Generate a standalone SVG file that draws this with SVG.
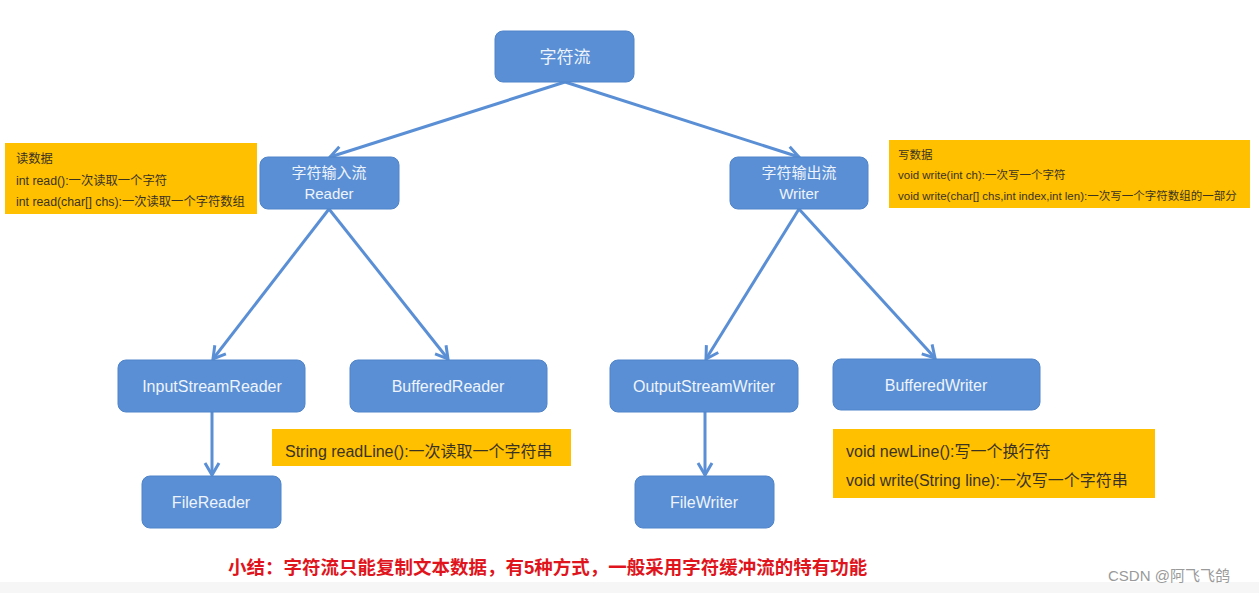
<svg xmlns="http://www.w3.org/2000/svg" width="1259" height="593" viewBox="0 0 1259 593">
<defs>
<style>
.node rect{fill:#5a8fd5;stroke:#4f84c9;stroke-width:1}
.node text{fill:#eef4fb;font-family:"Liberation Sans","Noto Sans CJK SC",sans-serif;font-size:16px;text-anchor:middle}
.note rect{fill:#ffc000}
.note text{fill:#3b3320;font-family:"Liberation Sans","Noto Sans CJK SC",sans-serif}
.s text{font-size:11.5px}
.sl text{font-size:12.3px}
.b text{font-size:16px}
.conn line{stroke:#5a8fd5;stroke-width:3;fill:none;marker-end:url(#arr)}
</style>
<marker id="arr" markerUnits="userSpaceOnUse" markerWidth="18" markerHeight="18" viewBox="0 0 18 18" refX="15" refY="9" orient="auto">
<path d="M3,2 L15,9 L3,16" fill="none" stroke="#5a8fd5" stroke-width="3"/>
</marker>
</defs>
<rect x="0" y="0" width="1259" height="593" fill="#ffffff"/>
<rect x="0" y="582" width="1259" height="11" fill="#f6f6f6"/>

<g id="connectors" class="conn">
<line x1="565" y1="82" x2="330" y2="157"/>
<line x1="565" y1="82" x2="799" y2="157"/>
<line x1="329" y1="209" x2="213" y2="359"/>
<line x1="329" y1="209" x2="448" y2="359"/>
<line x1="799" y1="209" x2="706" y2="359"/>
<line x1="799" y1="209" x2="935" y2="358"/>
<line x1="212" y1="412" x2="212" y2="475"/>
<line x1="705" y1="412" x2="705" y2="475"/>
</g>

<g id="n-root" class="node"><rect x="495" y="31" width="139" height="51" rx="8"/><text x="565" y="63" style="font-size:17px">字符流</text></g>
<g id="n-reader" class="node"><rect x="260" y="157" width="139" height="52" rx="8"/><text x="329" y="178" style="font-size:15px">字符输入流</text><text x="329" y="199" style="font-size:15px">Reader</text></g>
<g id="n-writer" class="node"><rect x="730" y="157" width="138" height="52" rx="8"/><text x="799" y="178" style="font-size:15px">字符输出流</text><text x="799" y="199" style="font-size:15px">Writer</text></g>
<g id="n-isr" class="node"><rect x="118" y="360" width="187" height="52" rx="8"/><text x="212" y="392">InputStreamReader</text></g>
<g id="n-br" class="node"><rect x="350" y="360" width="197" height="52" rx="8"/><text x="448" y="392">BufferedReader</text></g>
<g id="n-osw" class="node"><rect x="610" y="360" width="188" height="52" rx="8"/><text x="704" y="392">OutputStreamWriter</text></g>
<g id="n-bw" class="node"><rect x="833" y="359" width="207" height="51" rx="8"/><text x="936" y="391">BufferedWriter</text></g>
<g id="n-fr" class="node"><rect x="142" y="476" width="139" height="52" rx="8"/><text x="211" y="508">FileReader</text></g>
<g id="n-fw" class="node"><rect x="635" y="476" width="139" height="52" rx="8"/><text x="704" y="508">FileWriter</text></g>

<g id="note-read" class="note sl"><rect x="5" y="143" width="252" height="71"/>
<text x="16" y="163">读数据</text>
<text x="16" y="185">int read():一次读取一个字符</text>
<text x="16" y="206">int read(char[] chs):一次读取一个字符数组</text></g>
<g id="note-write" class="note s"><rect x="889" y="140" width="361" height="68"/>
<text x="898" y="159">写数据</text>
<text x="898" y="179">void write(int ch):一次写一个字符</text>
<text x="898" y="200">void write(char[] chs,int index,int len):一次写一个字符数组的一部分</text></g>
<g id="note-readline" class="note b"><rect x="272" y="429" width="299" height="37"/>
<text x="285" y="457">String readLine():一次读取一个字符串</text></g>
<g id="note-bw" class="note b"><rect x="833" y="429" width="322" height="69"/>
<text x="846" y="457">void newLine():写一个换行符</text>
<text x="846" y="486">void write(String line):一次写一个字符串</text></g>

<text x="228" y="574" fill="#e0141c" font-weight="bold" font-size="18.5" font-family="'Liberation Sans','Noto Sans CJK SC',sans-serif">小结：字符流只能复制文本数据，有5种方式，一般采用字符缓冲流的特有功能</text>
<text x="1108" y="581" fill="#9a9a9a" font-size="15" font-family="'Liberation Sans','Noto Sans CJK SC',sans-serif">CSDN @阿飞飞鸽</text>
</svg>
